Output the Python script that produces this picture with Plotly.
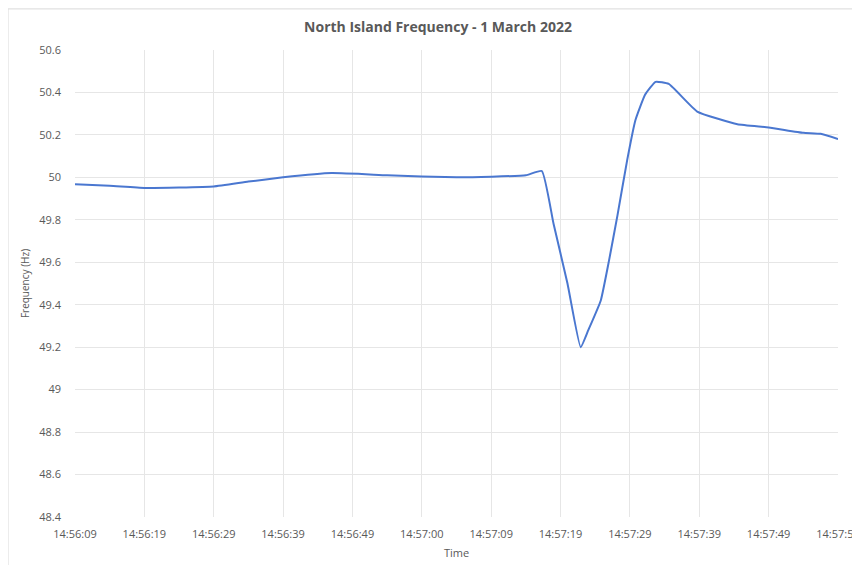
import plotly.graph_objects as go

# seconds after 14:56:09
time_s = [0, 5, 10, 15, 20, 25, 30, 37, 45, 55, 60, 65, 67.3, 69, 71, 72.9, 74, 75.8,
          77, 78.2, 79.6, 80.8, 82.2, 83.7, 85.6, 89.7, 95.5, 100, 105, 107.5, 110]
freq_hz = [49.967, 49.96, 49.95, 49.952, 49.957, 49.98, 50.0, 50.02, 50.01, 50.0, 50.003,
           50.01, 50.03, 49.78, 49.5, 49.2, 49.28, 49.42,
           49.61, 49.82, 50.08, 50.27, 50.39, 50.45, 50.44, 50.31, 50.25, 50.235, 50.21, 50.205, 50.18]

tick_vals = [0, 10, 20, 30, 40, 50, 60, 70, 80, 90, 100, 110]
tick_text = ["14:56:09", "14:56:19", "14:56:29", "14:56:39", "14:56:49", "14:57:00",
             "14:57:09", "14:57:19", "14:57:29", "14:57:39", "14:57:49", "14:57:59"]

font = "Open Sans"
grey = "#595959"

fig = go.Figure()
fig.add_trace(go.Scatter(
    x=time_s, y=freq_hz, mode="lines",
    line=dict(color="#4a77d0", width=2, shape="spline", smoothing=0.4),
    showlegend=False, hoverinfo="x+y"))

fig.update_layout(
    width=860, height=565,
    paper_bgcolor="white", plot_bgcolor="white",
    margin=dict(l=67, r=30, t=42, b=56, autoexpand=False),
    title=dict(text="<b>North Island Frequency - 1 March 2022</b>", x=0.5, xanchor="center",
               xref="container", yref="container",
               y=0.966, yanchor="middle", font=dict(family=font, size=14, color=grey),
               automargin=False),
    font=dict(family=font, size=11, color=grey),
    shapes=[dict(type="rect", xref="paper", yref="paper", x0=-0.0878, x1=1.04, y0=-0.12, y1=1.088,
                 line=dict(color="#d9d9d9", width=1))],
)
fig.update_xaxes(
    range=[0, 110], tickvals=tick_vals, ticktext=tick_text, automargin=False,
    showgrid=True, gridcolor="#e6e6e6", gridwidth=1, zeroline=False,
    showline=False, ticks="", tickfont=dict(size=11, color=grey), ticklabelstandoff=9,
    title=dict(text="Time", font=dict(size=11, color=grey), standoff=9))
fig.update_yaxes(
    range=[48.4, 50.6], automargin=False,
    tickvals=[48.4, 48.6, 48.8, 49.0, 49.2, 49.4, 49.6, 49.8, 50.0, 50.2, 50.4, 50.6],
    ticktext=["48.4", "48.6", "48.8", "49", "49.2", "49.4", "49.6", "49.8", "50", "50.2", "50.4", "50.6"],
    showgrid=True, gridcolor="#e6e6e6", gridwidth=1, zeroline=False,
    showline=False, ticks="", tickfont=dict(size=11, color=grey), ticklabelstandoff=13,
    title=dict(text="Frequency (Hz)", font=dict(size=10, color=grey), standoff=7))

fig.write_html("out.html")
